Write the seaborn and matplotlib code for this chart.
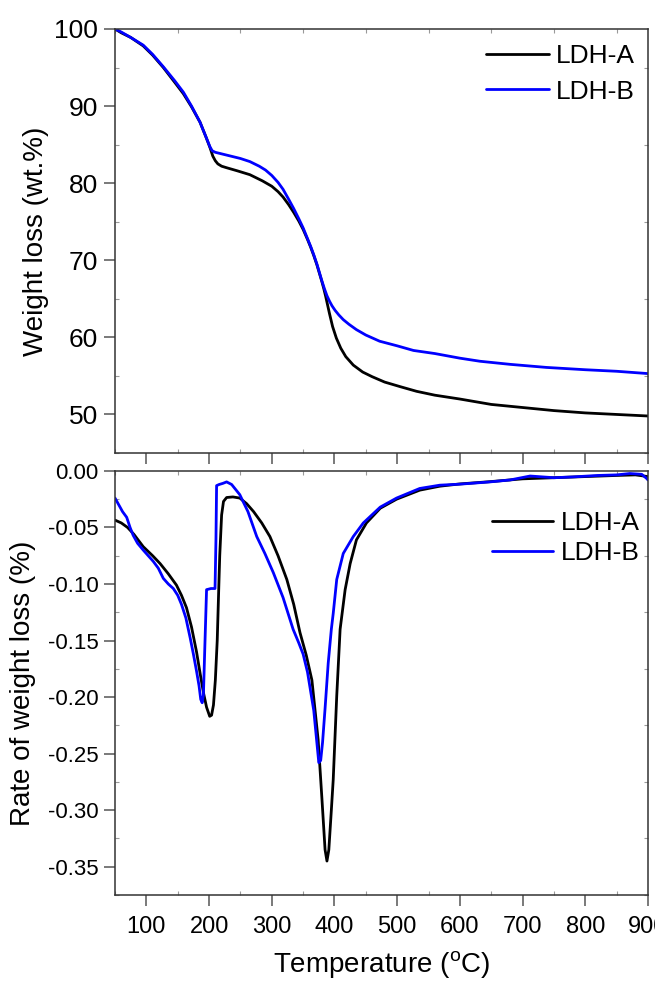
import numpy as np
import pandas as pd
import matplotlib
matplotlib.use("Agg")
import matplotlib.pyplot as plt
from matplotlib.ticker import MultipleLocator, FormatStrFormatter
import seaborn as sns

# TG curves (weight %)
tg_temp_a = [50, 60, 75, 95, 110, 127, 145, 159, 172, 185.6, 195, 201.5, 206, 210, 214, 220, 228, 245,
             265, 285, 300, 310, 318, 327, 335, 343, 350, 357, 362, 367, 372, 376, 380, 383, 386, 389,
             392, 397, 403, 410, 418, 430, 445, 460, 480, 505, 531, 560, 600, 650, 700, 750, 800, 850, 900]
tg_wt_a = [100, 99.5, 98.9, 97.8, 96.6, 95.0, 93.1, 91.6, 89.9, 87.9, 86.0, 84.6, 83.5, 82.9, 82.5, 82.2,
           82.0, 81.6, 81.1, 80.3, 79.6, 78.9, 78.2, 77.2, 76.2, 75.1, 74.0, 72.7, 71.7, 70.6, 69.4, 68.3,
           67.2, 66.3, 65.3, 64.2, 63.1, 61.4, 59.9, 58.6, 57.5, 56.4, 55.5, 54.9, 54.2, 53.6, 53.0, 52.5,
           52.0, 51.3, 50.9, 50.5, 50.2, 50.0, 49.8]

tg_temp_b = [50, 60, 75, 95, 110, 127, 145, 159, 172, 185.6, 195, 201.5, 205, 210, 220, 235, 250, 265,
             280, 290, 300, 310, 318, 327, 335, 343, 350, 357, 362, 367, 372, 376, 380, 384, 388, 392,
             396, 401, 407, 414, 423, 435, 450, 472, 500, 526, 560, 600, 632, 680, 738, 800, 850, 900]
tg_wt_b = [100, 99.6, 98.9, 97.9, 96.7, 95.1, 93.3, 91.8, 90.0, 87.9, 86.0, 84.7, 84.2, 84.0, 83.8, 83.5,
           83.2, 82.8, 82.2, 81.7, 81.0, 80.1, 79.2, 77.9, 76.7, 75.4, 74.2, 72.8, 71.8, 70.7, 69.5, 68.4,
           67.3, 66.3, 65.4, 64.7, 64.1, 63.5, 62.9, 62.3, 61.7, 61.0, 60.3, 59.5, 58.9, 58.3, 57.9, 57.3,
           56.9, 56.5, 56.1, 55.8, 55.6, 55.3]

# DTG curves (rate of weight loss, %)
dtg_temp_a = [50, 60, 70, 80, 95, 110, 122, 135, 148, 156, 164, 172, 180, 186, 191, 196, 201, 204, 207,
              210, 213, 215, 217, 220, 223, 228, 238, 249, 260, 271, 284, 297, 310, 324, 335, 345, 355,
              364, 374, 380, 385, 388, 391, 395, 398, 403.6, 409, 417, 425, 435, 451, 473, 499, 536,
              568, 600, 648, 700, 750, 800, 850, 880, 900]
dtg_rate_a = [-0.0435, -0.046, -0.050, -0.056, -0.067, -0.075, -0.082, -0.091, -0.101, -0.110, -0.121,
              -0.138, -0.160, -0.180, -0.196, -0.209, -0.217, -0.216, -0.207, -0.185, -0.150, -0.112,
              -0.075, -0.039, -0.027, -0.0235, -0.023, -0.024, -0.029, -0.036, -0.046, -0.058, -0.075,
              -0.096, -0.118, -0.143, -0.163, -0.185, -0.238, -0.290, -0.335, -0.345, -0.335, -0.300,
              -0.273, -0.199, -0.140, -0.105, -0.082, -0.061, -0.046, -0.033, -0.025, -0.017, -0.0135,
              -0.0115, -0.0095, -0.007, -0.006, -0.005, -0.004, -0.0035, -0.005]

dtg_temp_b = [50, 56, 62, 68.6, 74, 79, 86, 95, 103, 111, 119, 127, 135, 143, 150, 156, 163, 170, 175,
              180, 184, 186.7, 189, 191, 193, 196, 203, 209.5, 211, 212, 216, 222, 228, 236, 249, 262,
              276, 289, 302.5, 318, 334, 343, 350, 357, 362, 367, 371, 375, 378, 381, 385, 390, 395,
              398, 403.6, 414, 430, 446, 473, 499, 536, 568, 600, 648, 680, 712, 750, 780, 820, 850,
              871, 890, 898, 900]
dtg_rate_b = [-0.024, -0.030, -0.036, -0.041, -0.050, -0.057, -0.064, -0.070, -0.075, -0.080, -0.086,
              -0.095, -0.100, -0.104, -0.110, -0.118, -0.130, -0.148, -0.162, -0.177, -0.190, -0.202,
              -0.205, -0.198, -0.160, -0.105, -0.104, -0.104, -0.060, -0.013, -0.012, -0.011, -0.0097,
              -0.012, -0.021, -0.036, -0.058, -0.073, -0.090, -0.112, -0.140, -0.152, -0.162, -0.178,
              -0.195, -0.212, -0.235, -0.258, -0.256, -0.240, -0.210, -0.170, -0.140, -0.126, -0.096,
              -0.073, -0.058, -0.046, -0.032, -0.024, -0.0155, -0.0126, -0.0117, -0.0097, -0.008,
              -0.0045, -0.006, -0.0053, -0.004, -0.0035, -0.0023, -0.003, -0.0067, -0.008]

samples = ["LDH-A", "LDH-B"]
colors = {"LDH-A": "black", "LDH-B": "#0000ff"}

tg = pd.concat([
    pd.DataFrame({"temp": tg_temp_a, "val": tg_wt_a, "sample": samples[0]}),
    pd.DataFrame({"temp": tg_temp_b, "val": tg_wt_b, "sample": samples[1]}),
])
dtg = pd.concat([
    pd.DataFrame({"temp": dtg_temp_a, "val": dtg_rate_a, "sample": samples[0]}),
    pd.DataFrame({"temp": dtg_temp_b, "val": dtg_rate_b, "sample": samples[1]}),
])

sns.set_style("ticks")
plt.rcParams["font.family"] = ["Liberation Sans", "DejaVu Sans"]
plt.rcParams["mathtext.fontset"] = "custom"
plt.rcParams["mathtext.rm"] = "Liberation Sans"
plt.rcParams["text.color"] = "black"
plt.rcParams["axes.labelcolor"] = "black"
plt.rcParams["xtick.labelcolor"] = "black"
plt.rcParams["ytick.labelcolor"] = "black"

fig = plt.figure(figsize=(6.55, 9.85), dpi=100)
ax1 = fig.add_axes([0.1756, 0.5401, 0.8137, 0.4305])
ax2 = fig.add_axes([0.1756, 0.0914, 0.8137, 0.4305])

for ax, df in [(ax1, tg), (ax2, dtg)]:
    sns.lineplot(data=df, x="temp", y="val", hue="sample", palette=colors, estimator=None,
                 sort=False, linewidth=2.0, ax=ax)
    ax.set_xlim(50, 900)
    ax.xaxis.set_major_locator(MultipleLocator(100))
    ax.xaxis.set_minor_locator(MultipleLocator(50))
    for s in ax.spines.values():
        s.set_visible(True)
        s.set_color("#333333")
        s.set_linewidth(1.1)
    ax.tick_params(which="major", direction="out", length=8, width=1.1, color="#555555", pad=4)
    ax.tick_params(which="minor", direction="in", length=3, width=0.8, color="#999999",
                   top=True, right=True)
    ax.set_xlabel("")
    ax.set_ylabel("")

ax1.set_ylim(45, 100)
ax1.yaxis.set_major_locator(MultipleLocator(10))
ax1.yaxis.set_minor_locator(MultipleLocator(5))
ax1.tick_params(axis="y", labelsize=19)
ax1.tick_params(axis="x", labelbottom=False)
ax1.set_ylabel("Weight loss (wt.%)", fontsize=20, labelpad=4)

ax2.set_ylim(-0.375, 0)
ax2.yaxis.set_major_locator(MultipleLocator(0.05))
ax2.yaxis.set_minor_locator(MultipleLocator(0.025))
ax2.yaxis.set_major_formatter(FormatStrFormatter("%.2f"))
ax2.tick_params(axis="y", labelsize=16)
ax2.tick_params(axis="x", labelsize=17, pad=7)
ax2.set_ylabel("Rate of weight loss (%)", fontsize=20, labelpad=8)
ax2.set_xlabel(r"Temperature ($^\mathregular{o}$C)", fontsize=20, labelpad=8)

ax1.legend(loc="upper left", bbox_to_anchor=(0.696, 0.965), frameon=False, fontsize=19,
           handlelength=2.4, handletextpad=0.25, labelspacing=0.45, borderpad=0, borderaxespad=0)
ax2.legend(loc="upper left", bbox_to_anchor=(0.707, 0.905), frameon=False, fontsize=19,
           handlelength=2.3, handletextpad=0.3, labelspacing=0.22, borderpad=0, borderaxespad=0)

fig.savefig("out.png", dpi=100)
